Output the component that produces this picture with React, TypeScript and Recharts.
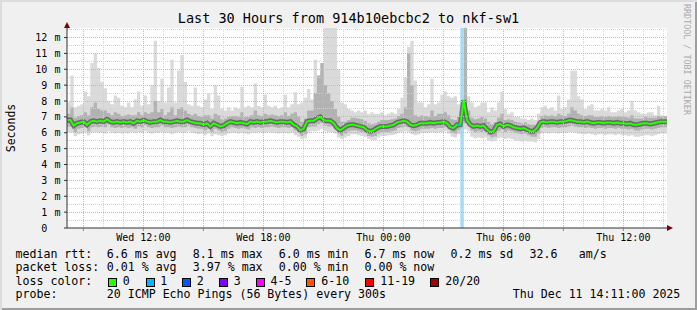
import {
  Area,
  CartesianGrid,
  ComposedChart,
  Line,
  ReferenceArea,
  ReferenceLine,
  XAxis,
  YAxis
} from 'recharts'

const FONT = "'DejaVu Sans Mono', monospace"
const STEP = 10 // minutes per sample, t = 0 is Wed 08:11

const MEDIAN = [
  6.8, 6.8, 6.45, 6.6, 6.65, 6.7, 6.5, 6.7, 6.75, 6.7,
  6.75, 6.7, 6.85, 6.7, 6.65, 6.7, 6.65, 6.7, 6.65, 6.7,
  6.6, 6.75, 6.7, 6.8, 6.7, 6.65, 6.7, 6.7, 6.8, 6.7,
  6.7, 6.65, 6.7, 6.75, 6.7, 6.7, 6.8, 6.7, 6.65, 6.6,
  6.6, 6.5, 6.6, 6.4, 6.6, 6.5, 6.4, 6.45, 6.6, 6.7,
  6.65, 6.6, 6.65, 6.6, 6.55, 6.7, 6.65, 6.7, 6.65, 6.7,
  6.7, 6.75, 6.7, 6.65, 6.7, 6.7, 6.65, 6.7, 6.5, 6.4,
  6.15, 6.25, 6.7, 6.75, 6.75, 6.9, 7.0, 6.8, 6.75, 6.75,
  6.6, 6.3, 6.15, 6.3, 6.45, 6.5, 6.5, 6.45, 6.4, 6.35,
  6.15, 6.1, 6.15, 6.3, 6.4, 6.4, 6.4, 6.45, 6.5, 6.65,
  6.7, 6.75, 6.7, 6.5, 6.45, 6.5, 6.6, 6.6, 6.6, 6.65,
  6.6, 6.65, 6.65, 6.7, 6.6, 6.35, 6.3, 6.5, 6.5, 8.05,
  6.8, 6.5, 6.4, 6.45, 6.4, 6.45, 6.2, 6.05, 6.1, 6.5,
  6.55, 6.4, 6.5, 6.45, 6.35, 6.3, 6.25, 6.3, 6.2, 6.1,
  6.1, 6.3, 6.65, 6.7, 6.65, 6.7, 6.7, 6.65, 6.7, 6.7,
  6.75, 6.8, 6.75, 6.7, 6.7, 6.65, 6.7, 6.65, 6.6, 6.65,
  6.65, 6.6, 6.65, 6.65, 6.6, 6.65, 6.6, 6.6, 6.55, 6.6,
  6.5, 6.5, 6.55, 6.6, 6.6, 6.55, 6.6, 6.65, 6.7, 6.7, 6.7
]

const MAX_RTT = [
  7.9, 9.6, 7.6, 7.7, 7.8, 8.6, 8.3, 10.4, 11.0, 10.1,
  9.2, 8.8, 8.0, 7.8, 8.35, 8.2, 7.7, 7.6, 7.9, 7.6,
  8.1, 8.6, 7.7, 8.35, 7.8, 9.0, 11.8, 8.0, 9.4, 7.9,
  8.85, 10.6, 7.9, 9.9, 10.9, 9.2, 7.8, 7.7, 8.85, 7.7,
  7.6, 8.1, 8.5, 7.5, 9.0, 8.35, 7.5, 7.4, 7.6, 7.4,
  7.6, 7.5, 8.9, 7.6, 7.7, 7.6, 9.1, 7.7, 7.6, 8.4,
  7.7, 7.6, 7.7, 7.5, 7.6, 8.4, 7.6, 7.8, 8.55, 7.8,
  7.9, 8.2, 8.75, 8.1, 10.6, 9.5, 9.9, 12.6, 12.6, 12.6,
  12.6, 10.0, 7.9, 7.8, 7.5, 7.4, 7.3, 7.4, 7.3, 7.4,
  7.2, 7.3, 7.2, 7.2, 7.3, 7.1, 7.2, 7.3, 7.2, 7.5,
  8.2, 9.5, 11.4, 11.8, 9.3, 7.9, 7.9, 7.6, 7.8, 9.4,
  7.8, 7.9, 8.4, 8.6, 8.3, 8.2, 8.3, 7.8, 8.6, 12.6,
  8.3, 7.9, 7.6, 7.7, 7.9, 7.9, 7.3, 7.6, 7.4, 7.9,
  8.6, 7.5, 7.2, 7.3, 7.0, 7.0, 6.9, 6.9, 6.8, 6.9,
  6.8, 7.2, 7.6, 7.7, 7.5, 7.6, 7.4, 8.35, 7.5, 7.6,
  8.1, 9.9, 9.9, 8.3, 8.1, 7.5, 7.7, 7.8, 7.4, 7.4,
  7.5, 7.4, 7.6, 7.3, 7.3, 7.4, 7.5, 7.3, 7.4, 8.0,
  7.4, 7.3, 7.2, 7.2, 7.3, 7.3, 7.1, 7.7, 7.1, 7.0, 7.0
]

const MIN_RTT = [
  6.05, 6.0, 5.8, 5.9, 5.95, 6.0, 5.85, 6.0, 6.05, 6.0,
  6.0, 5.95, 6.1, 6.0, 5.95, 6.0, 5.95, 6.0, 5.95, 6.05,
  6.0, 6.05, 6.0, 6.1, 6.0, 5.95, 6.0, 6.0, 6.05, 6.0,
  6.0, 5.9, 6.0, 6.05, 6.0, 6.0, 6.1, 6.0, 5.95, 5.9,
  5.95, 5.85, 5.95, 5.8, 5.9, 5.85, 5.8, 5.85, 5.95, 6.0,
  6.0, 5.95, 6.0, 5.95, 5.9, 6.0, 6.0, 6.05, 6.0, 6.0,
  6.05, 6.0, 6.0, 5.95, 6.0, 6.0, 5.95, 6.0, 5.85, 5.75,
  5.6, 5.65, 6.0, 6.1, 6.1, 6.15, 6.25, 6.1, 6.05, 6.05,
  5.95, 5.7, 5.6, 5.7, 5.8, 5.9, 5.9, 5.85, 5.8, 5.75,
  5.6, 5.55, 5.55, 5.7, 5.8, 5.8, 5.85, 5.85, 5.9, 6.0,
  6.05, 6.1, 6.05, 5.9, 5.85, 5.9, 6.0, 6.0, 6.0, 6.05,
  6.0, 6.05, 6.05, 6.1, 5.95, 5.75, 5.7, 5.9, 5.9, 6.2,
  6.1, 5.75, 5.65, 5.7, 5.65, 5.7, 5.5, 5.45, 5.5, 5.65,
  5.7, 5.6, 5.65, 5.6, 5.5, 5.5, 5.45, 5.5, 5.45, 5.45,
  5.4, 5.6, 5.95, 6.0, 5.95, 6.0, 6.0, 5.95, 6.0, 6.0,
  6.05, 6.05, 6.0, 5.95, 5.9, 5.9, 5.95, 5.9, 5.85, 5.9,
  5.9, 5.85, 5.9, 5.9, 5.85, 5.9, 5.85, 5.85, 5.8, 5.85,
  5.75, 5.75, 5.8, 5.85, 5.85, 5.8, 5.85, 5.9, 5.95, 5.95, 5.95
]

// middle part of the smoke (pings 5..15 of 20)
const MID_HI = [
  7.2, 7.6, 6.95, 7.05, 7.1, 7.3, 7.1, 7.6, 7.9, 7.5,
  7.4, 7.4, 7.25, 7.1, 7.3, 7.2, 7.05, 7.1, 7.15, 7.1,
  7.1, 7.3, 7.1, 7.3, 7.2, 7.3, 8.0, 7.3, 7.5, 7.1,
  7.3, 7.6, 7.1, 7.5, 7.6, 7.4, 7.2, 7.1, 7.2, 7.05,
  7.0, 7.1, 7.1, 6.9, 7.2, 7.1, 6.85, 6.9, 7.0, 7.05,
  7.05, 7.0, 7.3, 7.0, 7.0, 7.1, 7.4, 7.1, 7.05, 7.2,
  7.1, 7.15, 7.1, 7.05, 7.1, 7.3, 7.05, 7.2, 7.3, 7.0,
  6.7, 6.9, 7.4, 7.4, 8.5, 9.6, 10.4, 9.0, 8.5, 8.0,
  7.5, 7.0, 6.7, 6.7, 6.8, 6.95, 6.95, 6.9, 6.85, 6.75,
  6.6, 6.55, 6.6, 6.7, 6.8, 6.8, 6.8, 6.85, 6.9, 7.05,
  7.2, 7.6, 11.0, 9.0, 7.1, 7.0, 7.1, 7.05, 7.0, 7.4,
  7.05, 7.2, 7.2, 7.3, 7.1, 6.85, 6.8, 7.0, 7.2, 12.6,
  7.4, 6.95, 6.85, 6.9, 7.0, 6.9, 6.7, 6.55, 6.65, 6.95,
  7.2, 6.8, 6.85, 6.8, 6.7, 6.65, 6.6, 6.65, 6.55, 6.5,
  6.5, 6.7, 7.05, 7.1, 7.05, 7.1, 7.05, 7.2, 7.1, 7.05,
  7.2, 7.6, 7.4, 7.2, 7.1, 7.05, 7.1, 7.1, 7.0, 7.0,
  7.05, 7.0, 7.05, 7.0, 7.0, 7.05, 7.0, 7.0, 6.95, 7.1,
  6.9, 6.9, 6.9, 7.0, 6.95, 6.95, 6.95, 7.05, 7.0, 7.05, 7.05
]

const MID_LO = [
  6.4, 6.4, 6.05, 6.25, 6.3, 6.35, 6.1, 6.35, 6.4, 6.35,
  6.4, 6.35, 6.5, 6.35, 6.3, 6.35, 6.3, 6.35, 6.3, 6.35,
  6.25, 6.4, 6.35, 6.45, 6.35, 6.3, 6.35, 6.35, 6.45, 6.35,
  6.35, 6.3, 6.35, 6.4, 6.35, 6.35, 6.45, 6.35, 6.3, 6.25,
  6.25, 6.15, 6.25, 6.05, 6.25, 6.15, 6.05, 6.1, 6.25, 6.35,
  6.3, 6.25, 6.3, 6.25, 6.2, 6.35, 6.3, 6.35, 6.3, 6.35,
  6.35, 6.4, 6.35, 6.3, 6.35, 6.35, 6.3, 6.35, 6.15, 6.05,
  5.8, 5.9, 6.35, 6.4, 6.4, 6.55, 6.65, 6.45, 6.4, 6.4,
  6.25, 5.95, 5.8, 5.95, 6.1, 6.15, 6.15, 6.1, 6.05, 6.0,
  5.8, 5.75, 5.8, 5.95, 6.05, 6.05, 6.05, 6.1, 6.15, 6.3,
  6.35, 6.4, 6.35, 6.15, 6.1, 6.15, 6.25, 6.25, 6.25, 6.3,
  6.25, 6.3, 6.3, 6.35, 6.25, 6.0, 5.95, 6.15, 6.15, 6.6,
  6.45, 6.15, 6.05, 6.1, 6.05, 6.1, 5.85, 5.7, 5.75, 6.1,
  6.2, 6.05, 6.15, 6.1, 6.0, 5.95, 5.9, 5.95, 5.85, 5.75,
  5.75, 5.95, 6.3, 6.35, 6.3, 6.35, 6.35, 6.3, 6.35, 6.35,
  6.4, 6.45, 6.4, 6.35, 6.35, 6.3, 6.35, 6.3, 6.25, 6.3,
  6.3, 6.25, 6.3, 6.3, 6.25, 6.3, 6.25, 6.25, 6.2, 6.25,
  6.15, 6.15, 6.2, 6.25, 6.25, 6.2, 6.25, 6.3, 6.35, 6.35, 6.35
]

// samples with 1 of 20 pings lost
const LOSS_BAR = [118]
const LOSS_SEGMENT = [117, 118]

const X_TICKS = [49, 229, 409, 589, 769, 949, 1129, 1309, 1489, 1669]
const X_LABELS = ['', 'Wed 12:00', '', 'Wed 18:00', '', 'Thu 00:00', '', 'Thu 06:00', '', 'Thu 12:00']
const Y_TICKS = [0, 1, 2, 3, 4, 5, 6, 7, 8, 9, 10, 11, 12]
const Y_MAX = 12.6

const RTT_STATS = ['6.6 ms avg', '8.1 ms max', '6.0 ms min', '6.7 ms now', '0.2 ms sd']
const LOSS_STATS = ['0.01 % avg', '3.97 % max', '0.00 % min', '0.00 % now']
const LOSS_LABELS = ['0', '1', '2', '3', '4-5', '6-10', '11-19', '20/20']
const LOSS_COLORS = ['#26ff00', '#00b8ff', '#0059ff', '#7e00ff', '#ff00ff', '#ff5500', '#ff0000', '#a10000']

const STAT_X = [106.8, 192.8, 278.8, 364.5, 450.5]
const BOX_X = [108.4, 145.7, 182.4, 219, 255.7, 306.4, 365.4, 430.4]
const BOX_LABEL_X = [122.8, 160.2, 196.8, 233.8, 270.5, 321.2, 380.2, 445.2]

const data = MEDIAN.map((m, i) => ({
  t: i * STEP,
  med: m,
  outer: [MIN_RTT[i], MAX_RTT[i]],
  mid: [MID_LO[i], MID_HI[i]],
  lossMed: LOSS_SEGMENT.includes(i) ? m : null
}))

const HOUR_LINES = Array.from({ length: 30 }, (_, k) => 49 + k * 60).filter(
  t => !X_TICKS.includes(t)
)
const HALF_LINES = Y_TICKS.map(v => v + 0.5)

function YTick (props: any) {
  const { y, payload } = props
  return (
    <g>
      <text x={47.3} y={y + 3.6} textAnchor='end' fontSize={10} fontFamily={FONT} fill='#000'>
        {payload.value}
      </text>
      {payload.value > 0 && (
        <text x={54.5} y={y + 3.6} fontSize={10} fontFamily={FONT} fill='#000'>m</text>
      )}
    </g>
  )
}

function Txt ({ left, top, children, size = 11.6 }: any) {
  return (
    <span
      style={{
        position: 'absolute',
        left,
        top,
        fontFamily: FONT,
        fontSize: size,
        lineHeight: `${size}px`,
        whiteSpace: 'pre',
        color: '#000'
      }}
    >
      {children}
    </span>
  )
}

const ROW_TOP = [248.6, 262.2, 275.8, 289.4]
const GRID = '#d2d2d2'
const MGRID = '#f4a4a4'

export default function App () {
  return (
    <div
      style={{
        position: 'absolute',
        left: 0,
        top: 0,
        width: 697,
        height: 310,
        background: '#f0f0f0',
        overflow: 'hidden',
        boxShadow: 'inset 2px 2px 0 #dcdcdc, inset -2px -2px 0 #9e9e9e'
      }}
    >
      <ComposedChart
        width={697}
        height={310}
        data={data}
        margin={{ top: 28, right: 30, bottom: 62, left: 0 }}
      >
        <CartesianGrid fill='#ffffff' horizontal={false} vertical={false} />
        <XAxis
          type='number'
          dataKey='t'
          domain={[0, 1800]}
          ticks={X_TICKS}
          interval={0}
          allowDataOverflow
          height={20}
          tickSize={3}
          tickMargin={3}
          tickFormatter={(v: number) => X_LABELS[X_TICKS.indexOf(v)]}
          axisLine={{ stroke: '#303030' }}
          tickLine={{ stroke: '#e06060' }}
          tick={{ fontSize: 10, fill: '#000', fontFamily: FONT }}
        />
        <YAxis
          type='number'
          domain={[0, Y_MAX]}
          ticks={Y_TICKS}
          interval={0}
          allowDataOverflow
          width={67}
          tickSize={3}
          axisLine={{ stroke: '#303030' }}
          tickLine={{ stroke: '#303030' }}
          tick={YTick}
        />
        {HALF_LINES.map(v => (
          <ReferenceLine key={'h' + v} y={v} stroke={GRID} strokeDasharray='1 1' shapeRendering='crispEdges' />
        ))}
        {HOUR_LINES.map(t => (
          <ReferenceLine key={'v' + t} x={t} stroke={GRID} strokeDasharray='1 1' shapeRendering='crispEdges' />
        ))}
        <Area
          dataKey='outer'
          type='stepAfter'
          fill='#dadada'
          fillOpacity={1}
          stroke='none'
          isAnimationActive={false}
        />
        <Area
          dataKey='mid'
          type='stepAfter'
          fill='#b2b2b2'
          fillOpacity={1}
          stroke='none'
          isAnimationActive={false}
        />
        {LOSS_BAR.map(i => (
          <ReferenceArea
            key={'loss' + i}
            x1={i * STEP}
            x2={(i + 1) * STEP}
            y1={0}
            y2={Y_MAX}
            fill='#a2dcf6'
            fillOpacity={1}
            stroke='none'
            ifOverflow='hidden'
          />
        ))}
        <Line
          dataKey='med'
          stroke='#4a4a4a'
          strokeWidth={5}
          strokeOpacity={0.7}
          dot={false}
          activeDot={false}
          isAnimationActive={false}
        />
        <Line
          dataKey='med'
          stroke='#26ff00'
          strokeWidth={2}
          dot={false}
          activeDot={false}
          isAnimationActive={false}
        />
        <Line
          dataKey='lossMed'
          stroke='#00b8ff'
          strokeWidth={2}
          dot={false}
          activeDot={false}
          connectNulls={false}
          isAnimationActive={false}
        />
        {Y_TICKS.filter(v => v > 0).map(v => (
          <ReferenceLine key={'H' + v} y={v} stroke={MGRID} strokeDasharray='1 1' shapeRendering='crispEdges' />
        ))}
        {X_TICKS.map(t => (
          <ReferenceLine key={'V' + t} x={t} stroke={MGRID} strokeDasharray='1 1' shapeRendering='crispEdges' />
        ))}
      </ComposedChart>

      {/* axis arrows */}
      <div
        style={{
          position: 'absolute',
          left: 64,
          top: 21.5,
          width: 0,
          height: 0,
          borderLeft: '3px solid transparent',
          borderRight: '3px solid transparent',
          borderBottom: '6px solid #7f0000'
        }}
      />
      <div
        style={{
          position: 'absolute',
          left: 667,
          top: 225,
          width: 0,
          height: 0,
          borderTop: '3px solid transparent',
          borderBottom: '3px solid transparent',
          borderLeft: '6px solid #7f0000'
        }}
      />

      <div
        style={{
          position: 'absolute',
          left: 0,
          top: 12.3,
          width: 697,
          textAlign: 'center',
          fontFamily: FONT,
          fontSize: 13.5,
          lineHeight: '13.5px',
          whiteSpace: 'pre'
        }}
      >
        Last 30 Hours from 914b10ebcbc2 to nkf-sw1
      </div>

      <div
        style={{
          position: 'absolute',
          left: -19.5,
          top: 120.5,
          width: 60,
          height: 14,
          textAlign: 'center',
          fontFamily: FONT,
          fontSize: 11.5,
          lineHeight: '14px',
          transform: 'rotate(-90deg)'
        }}
      >
        Seconds
      </div>

      <div
        style={{
          position: 'absolute',
          left: 682,
          top: 3.5,
          writingMode: 'vertical-rl',
          fontFamily: FONT,
          fontSize: 8.4,
          lineHeight: '9px',
          color: '#aaaaaa',
          whiteSpace: 'pre'
        }}
      >
        RRDTOOL / TOBI OETIKER
      </div>

      <Txt left={15.5} top={ROW_TOP[0]}>median rtt:</Txt>
      {RTT_STATS.map((s, i) => (
        <Txt key={s} left={STAT_X[i]} top={ROW_TOP[0]}>{s}</Txt>
      ))}
      <Txt left={529.5} top={ROW_TOP[0]}>32.6</Txt>
      <Txt left={578.8} top={ROW_TOP[0]}>am/s</Txt>

      <Txt left={15.5} top={ROW_TOP[1]}>packet loss:</Txt>
      {LOSS_STATS.map((s, i) => (
        <Txt key={s + i} left={STAT_X[i]} top={ROW_TOP[1]}>{s}</Txt>
      ))}

      <Txt left={15.5} top={ROW_TOP[2]}>loss color:</Txt>
      {LOSS_LABELS.map((l, i) => (
        <div key={l}>
          <div
            style={{
              position: 'absolute',
              left: BOX_X[i],
              top: 278,
              width: 7,
              height: 7,
              background: LOSS_COLORS[i],
              border: '1px solid #000'
            }}
          />
          <Txt left={BOX_LABEL_X[i]} top={ROW_TOP[2]}>{l}</Txt>
        </div>
      ))}

      <Txt left={15.5} top={ROW_TOP[3]}>probe:</Txt>
      <Txt left={106.8} top={ROW_TOP[3]}>20 ICMP Echo Pings (56 Bytes) every 300s</Txt>
      <Txt left={512.8} top={ROW_TOP[3]}>Thu Dec 11 14:11:00 2025</Txt>
    </div>
  )
}
